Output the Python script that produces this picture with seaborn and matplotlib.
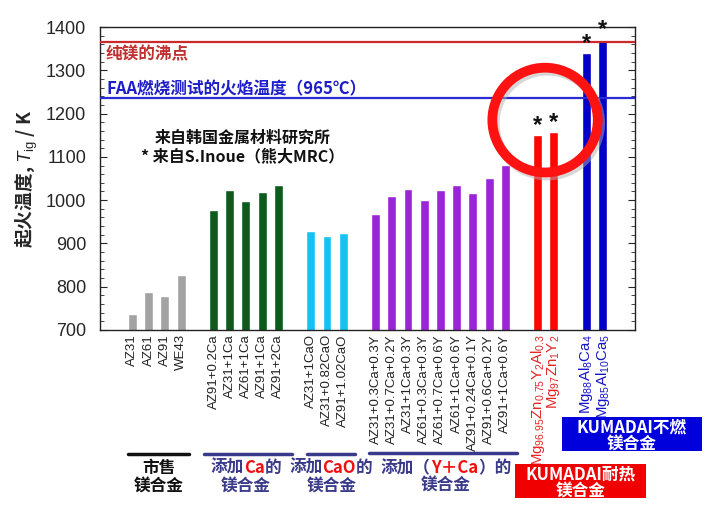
import matplotlib
matplotlib.use('Agg')
import numpy as np
import pandas as pd
import matplotlib.pyplot as plt
import seaborn as sns
from matplotlib.patches import Ellipse, Rectangle
from matplotlib.lines import Line2D
from matplotlib.offsetbox import TextArea, HPacker, AnnotationBbox
from matplotlib.ticker import MultipleLocator

# ---- data ----
commercial = ['AZ31', 'AZ61', 'AZ91', 'WE43']
commercial_T = [738, 788, 778, 826]

ca_added = ['AZ91+0.2Ca', 'AZ31+1Ca', 'AZ61+1Ca', 'AZ91+1Ca', 'AZ91+2Ca']
ca_added_T = [978, 1023, 998, 1018, 1034]

cao_added = ['AZ31+1CaO', 'AZ31+0.82CaO', 'AZ91+1.02CaO']
cao_added_T = [928, 918, 923]

yca_added = ['AZ31+0.3Ca+0.3Y', 'AZ31+0.7Ca+0.2Y', 'AZ31+1Ca+0.3Y',
             'AZ61+0.3Ca+0.3Y', 'AZ61+0.7Ca+0.6Y', 'AZ61+1Ca+0.6Y',
             'AZ91+0.24Ca+0.1Y', 'AZ91+0.6Ca+0.2Y', 'AZ91+1Ca+0.6Y']
yca_added_T = [968, 1010, 1025, 1000, 1024, 1034, 1017, 1051, 1081]

kumadai_heat = [r'Mg$_{96.95}$Zn$_{0.75}$Y$_{2}$Al$_{0.3}$', r'Mg$_{97}$Zn$_{1}$Y$_{2}$']
kumadai_heat_T = [1150, 1157]

kumadai_nonflam = [r'Mg$_{88}$Al$_{8}$Ca$_{4}$', r'Mg$_{85}$Al$_{10}$Ca$_{5}$']
kumadai_nonflam_T = [1339, 1371]

mg_boiling = 1366
faa_flame = 1236

groups = [
    ('commercial', commercial, commercial_T, '#a3a3a3'),
    ('ca', ca_added, ca_added_T, '#0c5b1d'),
    ('cao', cao_added, cao_added_T, '#14c3f2'),
    ('yca', yca_added, yca_added_T, '#9a24d8'),
    ('heat', kumadai_heat, kumadai_heat_T, '#ff0606'),
    ('nonflam', kumadai_nonflam, kumadai_nonflam_T, '#0000c8'),
]

# one empty slot between groups
rows = []
slot = 0
for name, labels, temps, color in groups:
    for lab, t in zip(labels, temps):
        rows.append({'alloy': lab, 'T': t, 'group': name, 'pos': slot})
        slot += 1
    slot += 1
df = pd.DataFrame(rows)
palette = {name: color for name, _, _, color in groups}

# ---- fonts ----
sns.set_style('ticks')
plt.rcParams['font.family'] = ['Liberation Sans', 'Noto Sans CJK SC', 'DejaVu Sans']
plt.rcParams['mathtext.fontset'] = 'custom'
plt.rcParams['mathtext.rm'] = 'Liberation Sans'
plt.rcParams['mathtext.it'] = 'Liberation Sans:italic'
CJK = ['Noto Sans CJK SC', 'DejaVu Sans']

W, H = 719, 519
fig = plt.figure(figsize=(W / 100, H / 100), dpi=100)
ax = fig.add_axes([100 / W, 1 - 330 / H, 535 / W, 303 / H])


def fx(x):
    return x / W


def fy(y):
    return 1 - y / H


sns.barplot(data=df, x='pos', y='T', hue='group', palette=palette,
            native_scale=True, dodge=False, width=0.55, errorbar=None,
            saturation=1, legend=False, ax=ax, zorder=2)

ax.set_xlim(-2, 31)
ax.set_ylim(700, 1400)
ax.yaxis.set_major_locator(MultipleLocator(100))
ax.yaxis.set_minor_locator(MultipleLocator(20))
ax.tick_params(axis='y', which='both', direction='in', left=True, right=True,
               labelsize=13, pad=10)
ax.tick_params(axis='y', which='major', length=5)
ax.tick_params(axis='y', which='minor', length=3)
ax.tick_params(axis='x', length=0, pad=3)
for sp in ax.spines.values():
    sp.set_visible(True)
    sp.set_linewidth(1.0)
    sp.set_color('#222222')

ax.set_xticks(df['pos'])
ax.set_xticklabels(df['alloy'], rotation=90, va='top', ha='center')
for lab, grp in zip(ax.get_xticklabels(), df['group']):
    if grp == 'heat':
        lab.set_color('#e52525')
        lab.set_fontsize(10.8)
    elif grp == 'nonflam':
        lab.set_color('#1515c8')
        lab.set_fontsize(10.8)
    else:
        lab.set_fontsize(9.5)
        lab.set_color('#222222')
ax.set_xlabel('')

ax.set_ylabel(r'起火温度, $T_{\mathrm{ig}}$ / K', family=CJK, fontsize=13.5,
              fontweight='bold')
ax.yaxis.set_label_coords(-0.112, 0.5)

# reference lines
ax.axhline(mg_boiling, color='#cc2a2a', lw=1.6, zorder=3)
ax.axhline(faa_flame, color='#2b2bd6', lw=1.6, zorder=3)
ax.text(-1.65, 1336, '纯镁的沸点', family=CJK, fontsize=12, fontweight='bold',
        color='#c03030', va='center', ha='left')
ax.text(-1.6, 1257, 'FAA燃烧测试的火焰温度（965℃）', family=CJK, fontsize=12,
        fontweight='bold', color='#1e1ec8', va='center', ha='left')
ax.text(1.4, 1144, '来自韩国金属材料研究所', family=CJK, fontsize=11.5,
        fontweight='bold', color='#111111', va='center', ha='left')
ax.text(0.55, 1101, '* 来自S.Inoue（熊大MRC）', family=CJK, fontsize=11.5,
        fontweight='bold', color='#111111', va='center', ha='left')

# asterisks on Inoue data
star = df[df['group'].isin(['heat', 'nonflam'])]
for p, t in zip(star['pos'], star['T']):
    ax.text(p, t - 4, '*', ha='center', va='bottom', fontsize=17,
            fontweight='bold', color='#111111', zorder=5)

# red highlight circle (with a soft shadow)
ax.add_patch(Ellipse((25.6, 1178), 6.5, 242, fill=False, lw=7, ec='#b0b0b0',
                     alpha=0.5, zorder=6, clip_on=False))
ax.add_patch(Ellipse((25.45, 1185), 6.5, 242, fill=False, lw=7, ec='#ff1212',
                     zorder=7, clip_on=False))

# group brackets below the chart
navy = '#3a3a8a'
for x0, x1, c, y in [(128, 189, '#111111', 454), (204, 292, navy, 454),
                     (307, 355, navy, 454), (369, 517, navy, 453)]:
    fig.add_artist(Line2D([fx(x0), fx(x1)], [fy(y), fy(y)], color=c, lw=2.5))

DY = 3  # CJK glyphs sit high in their box


def label(x, y, s, c, **kw):
    fig.text(fx(x), fy(y + DY), s, family=CJK, fontsize=12, fontweight='bold',
             color=c, ha='center', va='center', **kw)


def mixed(parts, x, y):
    boxes = [TextArea(s, textprops=dict(color=c, family=CJK, fontsize=12,
                                        fontweight='bold')) for s, c in parts]
    pack = HPacker(children=boxes, sep=0, pad=0, align='baseline')
    fig.add_artist(AnnotationBbox(pack, (fx(x), fy(y + DY)), xycoords='figure fraction',
                                  frameon=False, box_alignment=(0.5, 0.5), pad=0))


label(159, 465, '市售', '#111111')
label(159, 484, '镁合金', '#111111')

red = '#f01010'
mixed([('添加', navy), ('Ca', red), ('的', navy)], 246, 465)
label(246, 484, '镁合金', navy)
mixed([('添加', navy), ('CaO', red), ('的', navy)], 331, 465)
label(332, 484, '镁合金', navy)
mixed([('添加（', navy), ('Y＋Ca', red), ('）的', navy)], 446, 465)
label(446, 483, '镁合金', navy)

# KUMADAI boxes
for x0, x1, y0, y1, c, t1, ya, yb in [
        (515, 646, 464, 498, '#f00000', 'KUMADAI耐热', 472, 489),
        (562, 702, 417, 451, '#0000dc', 'KUMADAI不燃', 425, 442)]:
    fig.add_artist(Rectangle((fx(x0), fy(y1)), fx(x1 - x0), (y1 - y0) / H,
                             transform=fig.transFigure, fc=c, ec='none'))
    xc = (x0 + x1) / 2
    label(xc, ya, t1, 'white')
    label(xc, yb, '镁合金', 'white')

fig.savefig('out.png', dpi=100)
